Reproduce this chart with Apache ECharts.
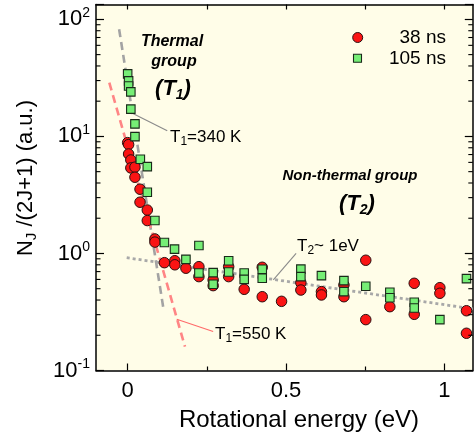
<!DOCTYPE html>
<html><head><meta charset="utf-8">
<script src="https://cdn.jsdelivr.net/npm/echarts@6/dist/echarts.min.js"></script>
<style>html,body{margin:0;padding:0;background:#fff}#c{width:474px;height:441px}</style>
</head><body><div id="c"></div>
<script>
// ---- data ----
const red38X = [0.000,0.003,0.003,0.010,0.010,0.023,0.023,0.039,0.039,0.062,0.062,0.086,0.086,0.116,0.149,0.149,0.184,0.225,0.225,0.270,0.270,0.319,0.319,0.368,0.425,0.425,0.486,0.547,0.547,0.612,0.612,0.683,0.683,0.752,0.752,0.828,0.905,0.905,0.986,0.986,1.070,1.070];
const red38Y = [8.85,8.51,7.08,6.29,5.38,5.46,4.48,3.54,2.74,2.35,1.91,1.33,1.25,0.834,0.867,0.80,0.748,0.771,0.634,0.594,0.531,0.771,0.634,0.494,0.762,0.427,0.390,0.562,0.487,0.472,0.442,0.538,0.427,0.875,0.272,0.351,0.556,0.302,0.510,0.457,0.324,0.208];
const green105X = [0.000,0.003,0.003,0.010,0.010,0.023,0.023,0.040,0.062,0.062,0.086,0.116,0.148,0.184,0.225,0.225,0.270,0.270,0.319,0.319,0.368,0.368,0.425,0.425,0.547,0.547,0.612,0.683,0.683,0.752,0.828,0.828,0.905,0.905,0.986,1.070];
const green105Y = [34.2,29.8,27.0,24.0,17.1,12.8,9.96,6.38,5.52,3.33,1.91,1.24,1.09,0.89,1.17,0.68,0.686,0.545,0.867,0.695,0.68,0.60,0.733,0.614,0.735,0.634,0.646,0.586,0.472,0.525,0.466,0.419,0.383,0.342,0.272,0.609];
// fit lines (endpoints, data units)
const fit340X = [-0.027, 0.112];
const fit340Y = [82.4, 0.351];
const fit550X = [-0.058, 0.181];
const fit550Y = [28.8, 0.160];
const fitT2X = [-0.003, 1.09];
const fitT2Y = [0.92, 0.336];
// leader lines
const lead340X = [0.018, 0.125];
const lead340Y = [15.6, 11.2];
const lead550X = [0.155, 0.270];
const lead550Y = [0.274, 0.215];
const leadT2X = [0.460, 0.532];
const leadT2Y = [0.594, 1.0];
// ticks
const xTickValues = [0, 0.5, 1];
const xTickLabels = ['0', '0.5', '1'];
const xMinorTicks = [0.25, 0.75];
const xTopTicks = [0, 0.25, 0.5, 0.75, 1];
const yTickValues = [0.1, 1, 10, 100];
const yTickExps = ['-1', '0', '1', '2'];
const yMinorTicks = [0.2,0.3,0.4,0.5,0.6,0.7,0.8,0.9,2,3,4,5,6,7,8,9,20,30,40,50,60,70,80,90];
const seriesNames = ['38 ns', '105 ns'];

const X_MIN = -0.1, X_MAX = 1.09, Y_MIN = 0.1, Y_MAX = 134;
const FONT = 'Liberation Sans, Arial, sans-serif';
const zip = (a, b) => a.map((v, i) => [v, b[i]]);

const chart = echarts.init(document.getElementById('c'), null, {renderer: 'canvas'});
const axLine = {show: true, onZero: false, lineStyle: {color: '#000', width: 1.5}};
const subRich = (fs) => ({
  a: {fontSize: fs, fontFamily: FONT, color: '#000', lineHeight: fs + 4},
  s: {fontSize: Math.round(fs * 0.7), fontFamily: FONT, color: '#000', lineHeight: Math.round(fs * 0.7), verticalAlign: 'bottom'}
});
const subRichBI = (fs) => ({
  a: {fontSize: fs, fontFamily: FONT, color: '#000', fontWeight: 'bold', fontStyle: 'italic', lineHeight: fs + 4},
  s: {fontSize: Math.round(fs * 0.65), fontFamily: FONT, color: '#000', fontWeight: 'bold', fontStyle: 'italic', lineHeight: Math.round(fs * 0.65), verticalAlign: 'bottom'}
});

const option = {
  backgroundColor: '#fff',
  animation: false,
  grid: {left: 96, right: 1.2, top: 4.5, bottom: 70.5, show: true, backgroundColor: '#fffde8', borderWidth: 0},
  xAxis: [
    {type: 'value', position: 'bottom', min: X_MIN, max: X_MAX, axisLine: axLine,
     axisTick: {inside: true, length: 7, customValues: xTickValues, lineStyle: {color: '#000', width: 1.2}},
     axisLabel: {customValues: xTickValues, margin: 9, fontSize: 22, fontFamily: FONT, color: '#000',
       formatter: v => { const i = xTickValues.findIndex(t => Math.abs(t - v) < 1e-6); return i >= 0 ? xTickLabels[i] : ''; }},
     splitLine: {show: false}},
    {type: 'value', position: 'top', min: X_MIN, max: X_MAX, axisLine: axLine,
     axisTick: {inside: true, length: 5, customValues: xTopTicks, lineStyle: {color: '#000', width: 1.2}},
     axisLabel: {show: false}, splitLine: {show: false}},
    {type: 'value', position: 'bottom', min: X_MIN, max: X_MAX, axisLine: {show: false, onZero: false},
     axisTick: {inside: true, length: 4, customValues: xMinorTicks, lineStyle: {color: '#000', width: 1.2}},
     axisLabel: {show: false}, splitLine: {show: false}}
  ],
  yAxis: [
    {type: 'log', logBase: 10, position: 'left', min: Y_MIN, max: Y_MAX, axisLine: axLine,
     axisTick: {inside: true, length: 8, lineStyle: {color: '#000', width: 1.2}},
     axisLabel: {margin: 6, fontFamily: FONT, color: '#000',
       formatter: v => { const i = yTickValues.findIndex(t => Math.abs(Math.log10(t) - Math.log10(v)) < 1e-6); return i >= 0 ? '{b|10}{s|' + yTickExps[i] + '}' : ''; },
       rich: {b: {fontSize: 22, fontFamily: FONT, color: '#000', lineHeight: 26},
              s: {fontSize: 14, fontFamily: FONT, color: '#000', lineHeight: 14, verticalAlign: 'top'}}},
     splitLine: {show: false}},
    {type: 'log', logBase: 10, position: 'right', min: Y_MIN, max: Y_MAX, axisLine: axLine,
     axisTick: {inside: true, length: 8, lineStyle: {color: '#000', width: 1.2}},
     axisLabel: {show: false}, splitLine: {show: false}}
  ],
  series: [
    {type: 'custom', name: 'minorY', xAxisIndex: 0, yAxisIndex: 0, z: 10, silent: true,
     data: yMinorTicks.map(v => [X_MIN, v]),
     renderItem: (params, api) => {
       const v = api.value(1);
       const p1 = api.coord([X_MIN, v]);
       const p2 = api.coord([X_MAX, v]);
       return {type: 'group', children: [
         {type: 'line', shape: {x1: p1[0], y1: p1[1], x2: p1[0] + 4.5, y2: p1[1]}, style: {stroke: '#000', lineWidth: 1.1}},
         {type: 'line', shape: {x1: p2[0], y1: p2[1], x2: p2[0] - 4.5, y2: p2[1]}, style: {stroke: '#000', lineWidth: 1.1}}
       ]};
     }},
    {type: 'line', name: 'fit340', data: zip(fit340X, fit340Y), showSymbol: false, symbol: 'none', z: 2,
     lineStyle: {color: '#a3a3a3', width: 2.6, type: [8, 5]}},
    {type: 'line', name: 'fit550', data: zip(fit550X, fit550Y), showSymbol: false, symbol: 'none', z: 2,
     lineStyle: {color: '#ff8585', width: 2.6, type: [8, 5]}},
    {type: 'line', name: 'fitT2', data: zip(fitT2X, fitT2Y), showSymbol: false, symbol: 'none', z: 2,
     lineStyle: {color: '#a8a8a8', width: 2.8, type: [3, 3]}},
    {type: 'line', name: 'lead340', data: zip(lead340X, lead340Y), showSymbol: false, symbol: 'none', z: 2,
     lineStyle: {color: '#8a8a8a', width: 1.1}},
    {type: 'line', name: 'lead550', data: zip(lead550X, lead550Y), showSymbol: false, symbol: 'none', z: 2,
     lineStyle: {color: '#ff6a6a', width: 1.1}},
    {type: 'line', name: 'leadT2', data: zip(leadT2X, leadT2Y), showSymbol: false, symbol: 'none', z: 2,
     lineStyle: {color: '#8a8a8a', width: 1.1}},
    {type: 'scatter', name: seriesNames[0], data: zip(red38X, red38Y), symbol: 'circle', symbolSize: 10.5, z: 3,
     itemStyle: {color: '#fa1414', borderColor: '#2a1010', borderWidth: 1, opacity: 1}},
    {type: 'scatter', name: seriesNames[1], data: zip(green105X, green105Y), symbol: 'rect', symbolSize: 8.5, z: 4,
     itemStyle: {color: '#76ee76', borderColor: '#1a2a1a', borderWidth: 1.1, opacity: 1}}
  ],
  graphic: [
    // legend
    {type: 'circle', shape: {cx: 357.7, cy: 37.5, r: 5}, style: {fill: '#fa1414', stroke: '#2a1010', lineWidth: 1}, z: 50},
    {type: 'rect', shape: {x: 353.5, y: 54.3, width: 8, height: 8}, style: {fill: '#76ee76', stroke: '#1a2a1a', lineWidth: 1.1}, z: 50},
    {type: 'text', x: 446, y: 37.5, z: 50, style: {text: seriesNames[0], fontSize: 19, fontFamily: FONT, fill: '#000', textAlign: 'right', textVerticalAlign: 'middle'}},
    {type: 'text', x: 446, y: 58.5, z: 50, style: {text: seriesNames[1], fontSize: 19, fontFamily: FONT, fill: '#000', textAlign: 'right', textVerticalAlign: 'middle'}},
    // group labels
    {type: 'text', x: 172, y: 42, z: 50, style: {text: 'Thermal', fontSize: 16, fontWeight: 'bold', fontStyle: 'italic', fontFamily: FONT, fill: '#000', textAlign: 'center', textVerticalAlign: 'middle'}},
    {type: 'text', x: 174, y: 62, z: 50, style: {text: 'group', fontSize: 16, fontWeight: 'bold', fontStyle: 'italic', fontFamily: FONT, fill: '#000', textAlign: 'center', textVerticalAlign: 'middle'}},
    {type: 'text', x: 173, y: 89, z: 50, style: {text: '{a|(T}{s|1}{a|)}', rich: subRichBI(22), textAlign: 'center', textVerticalAlign: 'middle'}},
    {type: 'text', x: 350, y: 176, z: 50, style: {text: 'Non-thermal group', fontSize: 15, fontWeight: 'bold', fontStyle: 'italic', fontFamily: FONT, fill: '#000', textAlign: 'center', textVerticalAlign: 'middle'}},
    {type: 'text', x: 357, y: 204, z: 50, style: {text: '{a|(T}{s|2}{a|)}', rich: subRichBI(22), textAlign: 'center', textVerticalAlign: 'middle'}},
    // fit annotations
    {type: 'text', x: 170, y: 137, z: 50, style: {text: '{a|T}{s|1}{a|=340 K}', rich: subRich(17), textAlign: 'left', textVerticalAlign: 'middle'}},
    {type: 'text', x: 215, y: 334, z: 50, style: {text: '{a|T}{s|1}{a|=550 K}', rich: subRich(17), textAlign: 'left', textVerticalAlign: 'middle'}},
    {type: 'text', x: 297, y: 246, z: 50, style: {text: '{a|T}{s|2}{a|~ 1eV}', rich: subRich(17), textAlign: 'left', textVerticalAlign: 'middle'}},
    // axis names
    {type: 'text', x: 299, y: 420, z: 50, style: {text: 'Rotational energy (eV)', fontSize: 24, fontFamily: FONT, fill: '#000', textAlign: 'center', textVerticalAlign: 'middle'}},
    {type: 'text', x: 26, y: 178, rotation: Math.PI / 2, z: 50, style: {text: '{a|N}{s|J}{a| /(2J+1) (a.u.)}', rich: subRich(22), textAlign: 'center', textVerticalAlign: 'middle'}}
  ]
};
chart.setOption(option);
</script>
</body></html>
